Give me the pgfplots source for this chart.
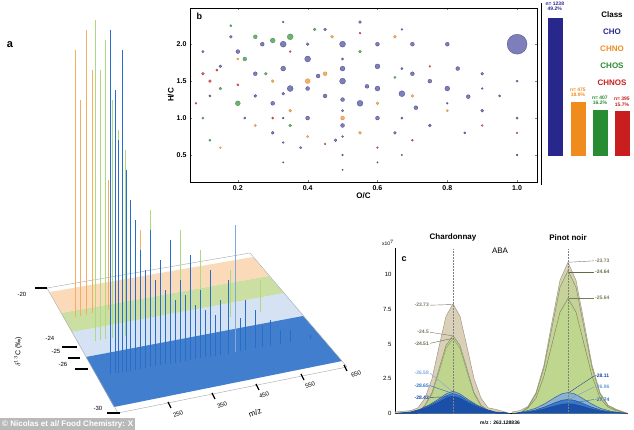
\documentclass[border=0pt]{standalone}
\usepackage{pgfplots}
\pgfplotsset{compat=1.18}
\usepackage{fontspec}
\setmainfont{Liberation Sans}
\definecolor{cho}{RGB}{40,40,140}
\definecolor{chno}{RGB}{240,140,30}
\definecolor{chos}{RGB}{40,140,50}
\definecolor{chnos}{RGB}{200,30,30}
\definecolor{beige}{RGB}{210,200,170}
\definecolor{lgreen}{RGB}{190,215,140}
\definecolor{mblue}{RGB}{40,110,200}
\definecolor{dblue}{RGB}{20,70,160}
\begin{document}
\begin{tikzpicture}[x=1pt,y=1pt,font=\bfseries\fontsize{7}{8}\selectfont]
\path[use as bounding box] (0,0) rectangle (634,430);
% ---------- panel a ----------
\begin{axis}[at={(0,0)},anchor=south west,scale only axis,width=634pt,height=430pt,
  xmin=0,xmax=634,ymin=0,ymax=430,hide axis,clip=false,empty line=jump]
\addplot[fill=mblue!40,draw=none,opacity=.5] coordinates {(72,98)(284,137)(342,69)(114,23)} -- cycle;
\addplot[fill=lgreen,draw=none,opacity=.8] coordinates {(61,117)(269,154)(284,137)(72,98)} -- cycle;
\addplot[fill=chno!45,draw=none,opacity=.7] coordinates {(50,138)(253,173)(269,154)(61,117)} -- cycle;
\addplot[fill=mblue,draw=none,opacity=.85] coordinates {(86,73)(303,114)(342,69)(114,23)} -- cycle;
\addplot[gray!70,thin] coordinates {(47,142)(250,177)(347,63)(118,17)(47,142)};
\addplot[chno!70,line width=0.6pt] coordinates {
(75,113)(75,380)

(80,114)(80,330)

(86,115)(86,400)

(92,117)(92,360)

(100,118)(100,300)

(108,120)(108,250)

(140,126)(140,200)

(170,131)(170,180)
};
\addplot[lgreen!90!green,line width=0.6pt] coordinates {
(95,89)(95,410)

(100,90)(100,360)

(105,91)(105,390)

(112,92)(112,330)

(118,93)(118,300)

(125,94)(125,280)

(150,98)(150,220)

(180,104)(180,200)

(200,108)(200,180)

(230,113)(230,160)

(260,118)(260,150)
};
\addplot[mblue,line width=0.6pt] coordinates {
(110,56)(110,400)

(115,57)(115,340)

(118,57)(118,290)

(122,58)(122,380)

(126,58)(126,260)

(130,59)(130,230)

(135,60)(135,210)

(140,61)(140,180)

(145,62)(145,160)

(150,63)(150,200)

(155,64)(155,150)

(160,65)(160,170)

(165,66)(165,140)

(170,66)(170,190)

(175,67)(175,130)

(180,68)(180,150)

(185,69)(185,135)

(190,70)(190,175)

(195,71)(195,125)

(200,72)(200,140)

(205,73)(205,120)

(210,73)(210,160)

(215,74)(215,115)

(220,75)(220,130)

(228,76)(228,150)

(240,79)(240,112)

(245,80)(245,130)

(255,82)(255,120)

(262,83)(262,105)

(270,84)(270,110)

(280,86)(280,100)

(290,88)(290,100)

(310,91)(310,95)
};
\addplot[mblue!60,line width=0.6pt] coordinates {(235,78)(235,205)};
\addplot[black,line width=2.2pt] coordinates {
(35,142)(47,142)

(62,83)(77,83)

(68,72)(80,72)

(75,61)(88,61)

(107,17)(120,17)
};
\addplot[black,line width=1.2pt] coordinates {
(168,28)(171,22)

(212,37)(215,31)

(256,46)(259,40)

(301,56)(304,50)

(344,65)(347,59)
};
\node[font=\fontsize{11}{12}\bfseries] at (10,385) {a};
\node[font=\fontsize{6}{7}\selectfont] at (22,136) {-20};
\node[font=\fontsize{6}{7}\selectfont] at (50,92) {-24};
\node[font=\fontsize{6}{7}\selectfont] at (56,79) {-25};
\node[font=\fontsize{6}{7}\selectfont] at (63,66) {-26};
\node[font=\fontsize{6}{7}\selectfont] at (98,22) {-30};
\node[font=\fontsize{7}{8}\selectfont,rotate=90] at (18,78) {$\delta^{13}$C (‰)};
\node[font=\fontsize{6}{7}\selectfont,rotate=20] at (178,16) {250};
\node[font=\fontsize{6}{7}\selectfont,rotate=20] at (222,25) {350};
\node[font=\fontsize{6}{7}\selectfont,rotate=20] at (264,35) {450};
\node[font=\fontsize{6}{7}\selectfont,rotate=20] at (310,45) {550};
\node[font=\fontsize{6}{7}\selectfont,rotate=20] at (356,56) {650};
\node[font=\fontsize{8}{9}\selectfont,rotate=20] at (255,17) {m/z};
\end{axis}
% ---------- panel b ----------
\begin{scope}[shift={(190,248)}]
\begin{axis}[at={(0,0)},anchor=south west,scale only axis,width=347pt,height=174pt,
  xmin=0.063,xmax=1.057,ymin=0.135,ymax=2.49,
  xtick={0.2,0.4,0.6,0.8,1.0},ytick={0.5,1.0,1.5,2.0},
  xticklabels={0.2,0.4,0.6,0.8,1.0},yticklabels={0.5,1.0,1.5,2.0},
  tick label style={font=\bfseries\fontsize{7}{8}\selectfont},
  xlabel={O/C},ylabel={H/C},
  xlabel style={font=\bfseries\fontsize{8}{9}\selectfont,yshift=5pt},
  ylabel style={font=\bfseries\fontsize{8}{9}\selectfont,yshift=-4pt},
  tick align=inside,major tick length=2pt,
  visualization depends on={\thisrow{s} \as \ps},
  sz/.style={scatter/@pre marker code/.append style={/tikz/mark size=\ps}}]
\addplot[only marks,scatter,mark=*,scatter/use mapped color={draw=cho!70!black,fill=cho!75},sz,opacity=.8,line width=.2pt] table {
x y s
1.0 2.0 10
0.5 2.0 3
0.33 2.0 3
0.4 1.8 3
0.25 1.6 2
0.5 1.5 3
0.6 1.7 2.5
0.45 1.3 2
0.55 1.2 3
0.67 1.33 3
0.7 1.6 2
0.75 1.5 2
0.8 1.4 2.5
0.6 1.0 2
0.5 0.9 2
0.4 1.0 2
0.3 1.2 2
0.35 1.4 3
0.2 1.9 2
0.15 1.7 1.5
0.27 2.0 2
0.43 1.57 2
0.57 1.43 2
0.71 1.14 2
0.86 1.29 2
0.9 1.1 1.5
0.83 1.67 2
0.65 0.8 1.5
0.48 0.7 1.5
0.38 0.6 1.2
0.3 0.8 1.5
0.22 1.0 1.2
0.7 2.0 2
0.8 2.0 2
0.6 2.0 2
0.45 2.2 1.5
0.55 2.3 1.5
0.33 1.67 2.5
0.5 1.67 2.5
0.5 1.25 2
0.6 1.4 2.5
0.4 1.4 2
0.9 1.6 1.5
0.95 1.3 1.2
1.0 1.5 1.2
1.0 1.0 1.2
1.0 0.5 1
0.75 0.9 1.5
0.85 0.8 1.2
0.25 1.3 1.5
0.12 1.3 1.2
0.1 1.9 1.2
0.18 2.1 1.5
0.5 0.5 1
0.5 0.3 0.8
0.33 0.4 0.8
0.67 0.5 0.8
0.67 2.2 1
0.33 2.3 1
0.5 1.8 1.2
0.5 1.1 1.2
0.5 0.75 1
0.33 1.0 1
0.33 1.33 1.5
0.33 0.67 1
0.67 1.0 1.2
0.67 1.67 1.2
0.4 2.0 1.5
0.8 1.2 1
0.9 1.4 1
0.6 0.4 0.8
};
\addplot[only marks,scatter,mark=*,scatter/use mapped color={draw=chno!80!black,fill=chno!85},sz,opacity=.8,line width=.2pt] table {
x y s
0.4 1.5 2.5
0.45 1.6 2
0.5 1.0 2
0.55 0.8 1.5
0.35 1.1 1.5
0.6 1.2 1.5
0.4 0.75 1.2
0.7 1.3 1.5
0.3 1.5 1.5
0.2 1.8 1.2
0.65 2.1 1.5
0.8 1.1 1.2
0.25 0.9 1.2
0.47 2.1 1.5
0.15 0.6 1
};
\addplot[only marks,scatter,mark=*,scatter/use mapped color={draw=chos!80!black,fill=chos!85},sz,opacity=.8,line width=.2pt] table {
x y s
0.35 2.1 3
0.3 2.05 2.5
0.25 2.1 2
0.2 1.2 2.5
0.22 1.8 2
0.15 1.4 1.5
0.28 1.6 1.5
0.35 0.9 1.5
0.55 1.9 1.5
0.1 1.0 1.2
0.12 0.7 1.2
0.42 2.2 1.5
0.65 1.55 1.2
0.18 2.25 1.2
};
\addplot[only marks,scatter,mark=*,scatter/use mapped color={draw=chnos!80!black,fill=chnos!85},sz,opacity=.8,line width=.2pt] table {
x y s
0.1 1.6 1.5
0.12 1.5 1.5
0.14 1.65 1.2
0.2 1.45 1.2
0.3 1.0 1.2
0.45 0.65 1
0.6 0.6 1
0.7 0.7 1
0.9 0.9 1
1.0 0.8 1
0.08 1.2 1
0.35 1.9 1
0.75 1.7 1
0.55 2.15 1
};
\node[font=\bfseries\fontsize{9}{10}\selectfont] at (axis cs:0.09,2.38) {b};
\end{axis}
\end{scope}
\draw[line width=1pt] (541,245) -- (541,427);
% ---------- bar chart ----------
\begin{scope}[shift={(546,275)}]
\begin{axis}[at={(0,0)},anchor=south west,scale only axis,width=88pt,height=140pt,
  xmin=0.5,xmax=4.5,ymin=0,ymax=50.3,hide axis,clip=false,ybar,bar width=14pt,bar shift=0pt]
\addplot[fill=cho,draw=cho] coordinates {(0.9,49.2)};
\addplot[fill=chno,draw=chno] coordinates {(1.95,18.9)};
\addplot[fill=chos,draw=chos] coordinates {(2.95,16.2)};
\addplot[fill=chnos,draw=chnos] coordinates {(3.95,15.7)};
\node[cho,font=\bfseries\fontsize{5}{5.5}\selectfont,align=center] at (axis cs:0.9,53.5) {n= 1238\\49.2\%};
\node[chno,font=\bfseries\fontsize{5}{5.5}\selectfont,align=center] at (axis cs:1.95,22.5) {n= 475\\18.9\%};
\node[chos,font=\bfseries\fontsize{5}{5.5}\selectfont,align=center] at (axis cs:2.95,19.7) {n= 407\\16.2\%};
\node[chnos,font=\bfseries\fontsize{5}{5.5}\selectfont,align=center] at (axis cs:3.95,19.2) {n= 395\\15.7\%};
\end{axis}
\end{scope}
\node[font=\bfseries\fontsize{8}{9}\selectfont] at (612,415) {Class};
\node[cho,font=\bfseries\fontsize{8}{9}\selectfont] at (612,398) {CHO};
\node[chno,font=\bfseries\fontsize{8}{9}\selectfont] at (612,381) {CHNO};
\node[chos,font=\bfseries\fontsize{8}{9}\selectfont] at (612,364) {CHOS};
\node[chnos,font=\bfseries\fontsize{8}{9}\selectfont] at (612,347) {CHNOS};
% ---------- panel c ----------
\begin{axis}[at={(395,12)},anchor=south west,scale only axis,width=233pt,height=165pt,
  xmin=395,xmax=628,ymin=0,ymax=11.9,axis lines=left,axis line style={-,line width=.8pt},
  xtick=\empty,ytick={0,2.5,5,7.5,10},yticklabels={0,2.5,5,7.5,10},
  tick label style={font=\fontsize{6}{7}\selectfont},major tick length=0pt,clip=false,
  every axis plot/.append style={line width=.5pt}]
\addplot[fill=beige,draw=beige!70!black,opacity=.85] coordinates {(395,0)(395,0.1)(411,0.2)(418,0.4)(425,1.1)(432,2.5)(439,4.8)(446,7.0)(453,7.9)(460,7.0)(467,4.8)(474,2.5)(481,1.1)(488,0.4)(495,0.3)(505,0.1)(510,0)};
\addplot[fill=lgreen!80!beige,draw=beige!60!black,opacity=.8] coordinates {(418,0)(425,0.6)(432,1.5)(439,3.2)(446,4.9)(453,5.6)(460,4.9)(467,3.2)(474,1.5)(481,0.6)(488,0.2)(495,0)};
\addplot[fill=lgreen,draw=lgreen!70!black,opacity=.8] coordinates {(418,0)(425,0.55)(432,1.4)(439,3.0)(446,4.7)(453,5.4)(460,4.7)(467,3.0)(474,1.4)(481,0.55)(488,0.2)(495,0)};
\addplot[fill=mblue!60,draw=mblue!60!black,opacity=.8] coordinates {(397,0)(411,0.1)(420,0.3)(429,0.6)(438,1.0)(446,1.4)(453,1.6)(460,1.4)(468,1.0)(477,0.6)(486,0.3)(495,0.1)(505,0.05)(508,0)};
\addplot[fill=mblue,draw=dblue,opacity=.8] coordinates {(397,0)(411,0.1)(420,0.27)(429,0.55)(438,0.9)(446,1.27)(453,1.45)(460,1.27)(468,0.9)(477,0.55)(486,0.27)(495,0.1)(505,0.05)(508,0)};
\addplot[fill=dblue,draw=dblue,opacity=.8] coordinates {(397,0)(411,0.08)(420,0.23)(429,0.47)(438,0.78)(446,1.1)(453,1.25)(460,1.1)(468,0.78)(477,0.47)(486,0.23)(495,0.08)(505,0.04)(508,0)};
\addplot[fill=beige,draw=beige!70!black,opacity=.85] coordinates {(512,0)(512,0.1)(520,0.2)(528,0.5)(536,1.5)(544,3.5)(552,6.6)(560,9.6)(568,10.9)(576,9.6)(584,6.6)(592,3.5)(600,1.5)(608,0.6)(616,0.3)(624,0.1)(628,0)};
\addplot[fill=lgreen!80!beige,draw=lgreen!60!black,opacity=.8] coordinates {(520,0)(528,0.45)(536,1.4)(544,3.3)(552,6.2)(560,9.1)(568,10.3)(576,9.1)(584,6.2)(592,3.3)(600,1.4)(608,0.55)(616,0.25)(626,0)};
\addplot[fill=lgreen,draw=lgreen!60!black,opacity=.85] coordinates {(520,0)(528,0.4)(536,1.1)(544,2.7)(552,5.0)(560,7.3)(568,8.3)(576,7.3)(584,5.0)(592,2.7)(600,1.1)(608,0.45)(616,0.2)(626,0)};
\addplot[fill=mblue!60,draw=dblue,opacity=.8] coordinates {(515,0)(525,0.15)(535,0.35)(545,0.7)(555,1.15)(562,1.42)(568,1.5)(574,1.42)(581,1.15)(591,0.7)(601,0.35)(611,0.15)(621,0.05)(626,0)};
\addplot[fill=mblue,draw=mblue!60!black,opacity=.8] coordinates {(515,0)(525,0.1)(535,0.23)(545,0.47)(555,0.77)(562,0.95)(568,1.0)(574,0.95)(581,0.77)(591,0.47)(601,0.23)(611,0.1)(621,0.03)(626,0)};
\addplot[fill=dblue,draw=dblue,opacity=.8] coordinates {(515,0)(525,0.07)(535,0.16)(545,0.33)(555,0.54)(562,0.66)(568,0.7)(574,0.66)(581,0.54)(591,0.33)(601,0.16)(611,0.07)(621,0.02)(626,0)};
\addplot[gray,densely dotted,line width=.5pt] coordinates {(453,0)(453,11.9)};
\addplot[gray,densely dotted,line width=.5pt] coordinates {(568,0)(568,11.9)};
\tikzset{lab/.style={font=\bfseries\fontsize{5}{6}\selectfont,inner sep=1pt}}
\node[lab,beige!60!black,anchor=east] (l1) at (axis cs:430,7.8) {-23.73};
\draw[beige!60!black,thin] (l1.east) -- (axis cs:452,7.85);
\node[lab,beige!60!black,anchor=east] (l2) at (axis cs:430,5.85) {-24.5};
\draw[beige!60!black,thin] (l2.east) -- (axis cs:452,5.6);
\node[lab,lgreen!50!black,anchor=east] (l3) at (axis cs:430,5.05) {-24.51};
\draw[lgreen!50!black,thin] (l3.east) -- (axis cs:452,5.4);
\node[lab,mblue!60,anchor=east] (l4) at (axis cs:430,2.9) {-26.58};
\draw[mblue!60,thin] (l4.east) -- (axis cs:452,1.6);
\node[lab,mblue,anchor=east] (l5) at (axis cs:430,2.0) {-28.65};
\draw[mblue,thin] (l5.east) -- (axis cs:452,1.45);
\node[lab,dblue,anchor=east] (l6) at (axis cs:430,1.15) {-28.43};
\draw[dblue,thin] (l6.east) -- (axis cs:452,1.2);
\node[lab,beige!60!black,anchor=west] (r1) at (axis cs:594,11.0) {-23.73};
\draw[beige!60!black,thin] (r1.west) -- (axis cs:569,10.9);
\node[lab,lgreen!50!black,anchor=west] (r2) at (axis cs:594,10.2) {-24.64};
\draw[lgreen!50!black,thin] (r2.west) -- (axis cs:569,10.2);
\node[lab,lgreen!60!black,anchor=west] (r3) at (axis cs:594,8.3) {-25.64};
\draw[lgreen!60!black,thin] (r3.west) -- (axis cs:569,8.3);
\node[lab,dblue,anchor=west] (r4) at (axis cs:594,2.7) {-28.11};
\draw[dblue,thin] (r4.west) -- (axis cs:569,1.5);
\node[lab,mblue!70,anchor=west] (r5) at (axis cs:594,1.9) {-26.96};
\draw[mblue!70,thin] (r5.west) -- (axis cs:569,1.0);
\node[lab,mblue,anchor=west] (r6) at (axis cs:594,1.0) {-27.74};
\draw[mblue,thin] (r6.west) -- (axis cs:569,0.7);
\node[font=\fontsize{5}{6}\selectfont] at (axis cs:388,12.3) {x10$^7$};
\node[font=\bfseries\fontsize{9}{10}\selectfont] at (axis cs:404,11.1) {c};
\node[font=\bfseries\fontsize{8}{9}\selectfont] at (axis cs:453,12.7) {Chardonnay};
\node[font=\bfseries\fontsize{8}{9}\selectfont] at (axis cs:568,12.7) {Pinot noir};
\node[font=\fontsize{8}{9}\selectfont] at (axis cs:500,11.7) {ABA};
\node[font=\bfseries\fontsize{5}{6}\selectfont] at (axis cs:500,-0.7) {m/z : 263.128836};
\end{axis}
\node[fill=gray!55,text=white,anchor=south west,inner sep=2pt,font=\bfseries\fontsize{8}{9}\selectfont] at (0,0) {© Nicolas et al/ Food Chemistry: X};
\end{tikzpicture}
\end{document}
